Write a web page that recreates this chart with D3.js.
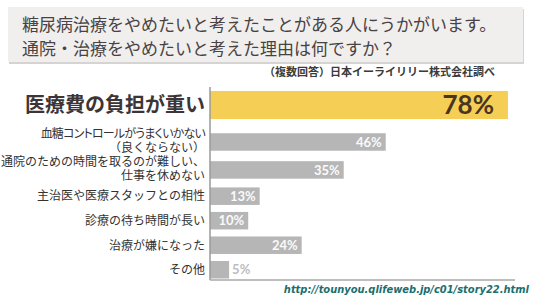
<!DOCTYPE html>
<html>
<head>
<meta charset="utf-8">
<script src="https://cdn.jsdelivr.net/npm/d3@7"></script>
<style>
  body { margin: 0; background: #fff; }
  svg { display: block; font-family: "Noto Sans CJK JP", sans-serif; }
</style>
</head>
<body>
<svg id="chart" width="540" height="300"></svg>
<script>
const titleLines = ['糖尿病治療をやめたいと考えたことがある人にうかがいます。', '通院・治療をやめたいと考えた理由は何ですか？']
const note = '（複数回答）日本イーライリリー株式会社調べ'
const sourceUrl = 'http://tounyou.qlifeweb.jp/c01/story22.html'

const categories = [
  '医療費の負担が重い',
  '血糖コントロールがうまくいかない\n（良くならない）',
  '通院のための時間を取るのが難しい、\n仕事を休めない',
  '主治医や医療スタッフとの相性',
  '診療の待ち時間が長い',
  '治療が嫌になった',
  'その他'
]
const values = [78, 46, 35, 13, 10, 24, 5]

const svg = d3.select('#chart')

// title box
svg.append('rect')
  .attr('x', 9).attr('y', 9).attr('width', 515).attr('height', 55)
  .attr('fill', '#d6d4d2')
svg.append('rect')
  .attr('x', 8).attr('y', 7).attr('width', 515).attr('height', 55)
  .attr('fill', '#f0efee')

svg.selectAll('text.title')
  .data(titleLines)
  .join('text')
    .attr('class', 'title')
    .attr('x', 22)
    .attr('y', (d, i) => 25 + i * 24)
    .attr('dy', '0.36em')
    .attr('font-size', 17)
    .attr('fill', '#4a4242')
    .text(d => d)

svg.append('text')
  .attr('x', 495).attr('y', 72).attr('dy', '0.36em')
  .attr('text-anchor', 'end')
  .attr('font-size', 11)
  .attr('font-weight', 'bold')
  .attr('fill', '#3a3a3a')
  .text(note)

const x = d3.scaleLinear()
  .domain([0, 100])
  .range([210, 592])

// the highlighted first row gets its own band, the rest share one
const yTop = d3.scaleBand()
  .domain(categories.slice(0, 1))
  .range([86, 124])
  .padding(0.15)

// two-line labels need a little more room than one-line labels
const rest = categories.slice(1)
const units = rest.map(c => c.includes('\n') ? 1.14 : 1)
const starts = [0]
units.forEach((u, i) => starts.push(starts[i] + u))
const y = d3.scaleLinear()
  .domain([0, d3.sum(units)])
  .range([128, 282])
const barH = 17.5

const rows = categories.map((c, i) => {
  if (i === 0) {
    return { cat: c, value: values[i], top: true, y: yTop(c), h: yTop.bandwidth() }
  }
  const cy = y(starts[i - 1] + units[i - 1] / 2)
  return { cat: c, value: values[i], top: false, y: cy - barH / 2, h: barH }
})

const g = svg.append('g')

g.selectAll('rect.bar')
  .data(rows)
  .join('rect')
    .attr('class', 'bar')
    .attr('x', x(0))
    .attr('y', d => d.y)
    .attr('width', d => x(d.value) - x(0))
    .attr('height', d => d.h)
    .attr('fill', d => d.top ? '#f5cf55' : '#b6b6b6')

// axis lines
g.append('line')
  .attr('x1', x(0)).attr('x2', x(0))
  .attr('y1', 87).attr('y2', 280)
  .attr('stroke', '#9a9a9a').attr('stroke-width', 1.5)
g.append('line')
  .attr('x1', x(0)).attr('x2', 515)
  .attr('y1', 280).attr('y2', 280)
  .attr('stroke', '#a8a8a8').attr('stroke-width', 1.5)

// category labels
rows.forEach(d => {
  const lines = d.cat.split('\n')
  const cy = d.y + d.h / 2 - (lines.length > 1 ? 1.5 : 0)
  const lh = 14.5
  const t = g.append('text')
    .attr('text-anchor', 'end')
    .attr('fill', d.top ? '#3d3535' : '#333')
    .attr('font-size', d.top ? 20 : 12)
    .attr('font-weight', d.top ? 'bold' : 'normal')
  lines.forEach((l, i) => {
    const ts = t.append('tspan')
      .attr('x', x(0) - 5)
      .attr('y', cy + (i - (lines.length - 1) / 2) * lh)
      .attr('dy', '0.36em')
      .text(l)
    // the katakana-heavy line is set tighter in the original
    const kana = (l.match(/[ァ-ヶー]/g) || []).length
    if (kana >= 5) ts.style('font-feature-settings', '"palt"').attr('letter-spacing', -0.8)
  })
})

// value labels
g.selectAll('text.value')
  .data(rows)
  .join('text')
    .attr('class', 'value')
    .attr('font-family', 'Lato, sans-serif')
    .attr('font-weight', 'bold')
    .attr('font-size', d => d.top ? 26 : 13)
    .attr('y', d => d.y + d.h / 2)
    .attr('dy', '0.36em')
    .attr('text-anchor', d => d.value < 8 ? 'start' : 'end')
    .attr('x', d => {
      if (d.top) return x(d.value) - 14
      if (d.value < 8) return x(d.value) + 3
      return x(d.value) - 4
    })
    .attr('fill', d => d.top ? '#4a3520' : (d.value < 8 ? '#bdbdbd' : '#fafafa'))
    .text(d => d.value + '%')

svg.append('text')
  .attr('x', 529).attr('y', 289).attr('dy', '0.36em')
  .attr('text-anchor', 'end')
  .attr('font-family', '"DejaVu Sans Condensed", "DejaVu Sans", sans-serif')
  .attr('font-weight', 'bold')
  .attr('font-style', 'italic')
  .attr('font-size', 11)
  .attr('fill', '#1b6e6e')
  .text(sourceUrl)
</script>
</body>
</html>
